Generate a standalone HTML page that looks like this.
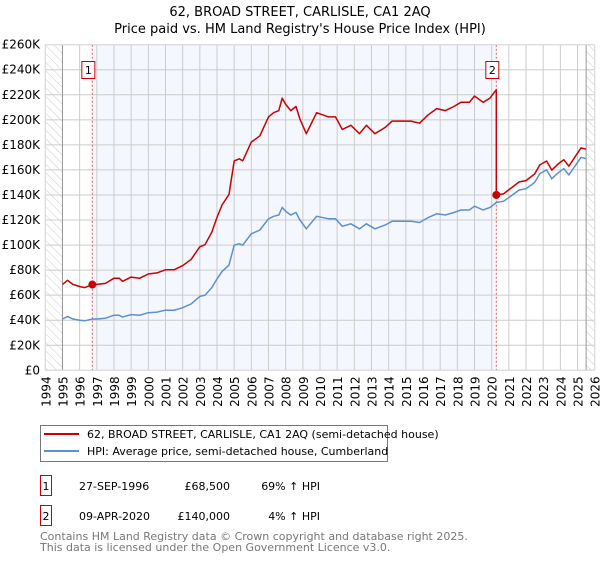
<!DOCTYPE html>
<html><head><meta charset="utf-8"><style>
body{margin:0;background:#fff;width:600px;height:560px;overflow:hidden;font-family:"DejaVu Sans","Liberation Sans",sans-serif}
</style></head><body>
<svg id="chart" width="600" height="560" xmlns="http://www.w3.org/2000/svg" font-family="DejaVu Sans, Liberation Sans, sans-serif">
<defs><pattern id="hatch" width="6" height="6" patternUnits="userSpaceOnUse" patternTransform="rotate(-45)"><line x1="0" y1="0" x2="0" y2="6" stroke="#ccc" stroke-width="1"/></pattern></defs>
<text x="300" y="16" text-anchor="middle" font-size="13" fill="#000">62, BROAD STREET, CARLISLE, CA1 2AQ</text>
<text x="300" y="33" text-anchor="middle" font-size="13" fill="#000">Price paid vs. HM Land Registry's House Price Index (HPI)</text>
<g id="plot"></g>
<g>
<rect x="40.5" y="425.5" width="347" height="36" fill="#fff" stroke="#777"/>
<line x1="44" y1="434" x2="79" y2="434" stroke="#cc0000" stroke-width="2"/>
<text x="87" y="438" font-size="11">62, BROAD STREET, CARLISLE, CA1 2AQ (semi-detached house)</text>
<line x1="44" y1="451" x2="79" y2="451" stroke="#5b8fd4" stroke-width="2"/>
<text x="87" y="455" font-size="11">HPI: Average price, semi-detached house, Cumberland</text>
</g>
<g font-size="11">
<rect x="40.5" y="475.5" width="11" height="20" fill="none" stroke="#cc0000"/><text x="46" y="490" text-anchor="middle">1</text>
<text x="79" y="490">27-SEP-1996</text><text x="230" y="490" text-anchor="end">£68,500</text><text x="320" y="490" text-anchor="end">69% ↑ HPI</text>
<rect x="40.5" y="505.5" width="11" height="20" fill="none" stroke="#cc0000"/><text x="46" y="520" text-anchor="middle">2</text>
<text x="79" y="520">09-APR-2020</text><text x="230" y="520" text-anchor="end">£140,000</text><text x="320" y="520" text-anchor="end">4% ↑ HPI</text>
</g>
<text x="40" y="540" font-size="11" fill="#777">Contains HM Land Registry data © Crown copyright and database right 2025.</text>
<text x="40" y="551" font-size="11" fill="#777">This data is licensed under the Open Government Licence v3.0.</text>
</svg>
<script>
const hpiDates=[1995.0,1995.3,1995.6,1996.0,1996.3,1996.75,1997.0,1997.5,1998.0,1998.3,1998.5,1999.0,1999.5,2000.0,2000.5,2001.0,2001.5,2002.0,2002.5,2003.0,2003.3,2003.7,2004.0,2004.3,2004.7,2005.0,2005.3,2005.5,2006.0,2006.5,2007.0,2007.3,2007.6,2007.8,2008.0,2008.3,2008.6,2008.83,2009.2,2009.8,2010.5,2010.9,2011.3,2011.8,2012.3,2012.7,2013.2,2013.8,2014.2,2014.8,2015.3,2015.8,2016.3,2016.8,2017.3,2017.8,2018.2,2018.7,2019.0,2019.5,2019.9,2020.27,2020.7,2021.2,2021.6,2022.0,2022.5,2022.8,2023.2,2023.5,2023.9,2024.2,2024.5,2024.9,2025.2,2025.5];
const hpiValues=[41,43,41,40,39.5,41,41,41.5,44,44,42.5,44.5,44,46,46.5,48,48,50,53,59,60,66,73,79,84,100,101,100,109,112,121,123,124,130,127,124,126,120,113,123,121,121,115,117,113,117,113,116,119,119,119,118,122,125,124,126,128,128,131,128,130,134,135,140,144,145,150,157,160,153,158,161,156,164,170,169];
const saleDates=[1996.74,2020.27];
const salePrices=[68500,140000];
const saleLabels=["1","2"];
const yTicks=[0,20,40,60,80,100,120,140,160,180,200,220,240,260];
const xYears=[];for(let y=1994;y<=2026;y++)xYears.push(y);

const NS="http://www.w3.org/2000/svg";
const L=45.3,R=594.7,T=44.7,B=370.3;
const x=d=>L+(d-1994)*(R-L)/32;
const y=v=>B-v*(B-T)/260;
const g=document.getElementById('plot');
function mk(tag,attrs,parent){const e=document.createElementNS(NS,tag);for(const k in attrs)e.setAttribute(k,attrs[k]);(parent||g).appendChild(e);return e;}
function hpiAt(d){for(let i=0;i<hpiDates.length-1;i++){if(d<=hpiDates[i+1]){const t=(d-hpiDates[i])/(hpiDates[i+1]-hpiDates[i]);return hpiValues[i]+t*(hpiValues[i+1]-hpiValues[i]);}}return hpiValues[hpiValues.length-1];}

let bg=mk('rect',{x:L,y:T,width:R-L,height:B-T,fill:'#fff'});


let sh=mk('rect',{x:x(saleDates[0]),y:T,width:x(saleDates[1])-x(saleDates[0]),height:B-T,fill:'#f4f7fe'});


let h1=mk('rect',{x:L,y:T,width:x(1995)-L,height:B-T,fill:'url(#hatch)'});


let h2=mk('rect',{x:x(2025.5),y:T,width:R-x(2025.5),height:B-T,fill:'url(#hatch)'});


xYears.forEach(yr=>{
 const gl=mk('line',{x1:x(yr),x2:x(yr),y1:T,y2:B,stroke:'#ccc','stroke-width':1});
 
 
 const t=mk('text',{x:0,y:0,transform:`translate(${x(yr)+5},${B+6}) rotate(-90)`,'text-anchor':'end','font-size':'12'});
 t.textContent=yr;
 
 
});
yTicks.forEach(v=>{
 const gl=mk('line',{x1:L,x2:R,y1:y(v),y2:y(v),stroke:'#ccc','stroke-width':1});
 
 
 const t=mk('text',{x:40,y:y(v)+4,'text-anchor':'end','font-size':'12'});
 t.textContent=v===0?'£0':'£'+v+'K';
 
 
});
let b1=mk('line',{x1:x(1995),x2:x(1995),y1:T,y2:B,stroke:'#999'});


let b2=mk('line',{x1:x(2025.5),x2:x(2025.5),y1:T,y2:B,stroke:'#999'});


saleDates.forEach((d,i)=>{
 const vl=mk('line',{x1:x(d),x2:x(d),y1:T,y2:B,stroke:'#e06060','stroke-dasharray':'2,2'});
 
 
});
let hp=hpiDates.map((d,i)=>`${x(d).toFixed(1)},${y(hpiValues[i]).toFixed(1)}`).join(' ');
let hl=mk('polyline',{points:hp,fill:'none',stroke:'#5b8fd4','stroke-width':1.5});


let pts=[];
const r0=salePrices[0]/1000/hpiAt(saleDates[0]),r1=salePrices[1]/1000/hpiAt(saleDates[1]);
hpiDates.forEach((d,i)=>{if(d<saleDates[1])pts.push([d,hpiValues[i]*r0]);});
pts.push([saleDates[1],hpiAt(saleDates[1])*r0]);
pts.push([saleDates[1],salePrices[1]/1000]);
hpiDates.forEach((d,i)=>{if(d>saleDates[1])pts.push([d,hpiValues[i]*r1]);});
let pl=mk('polyline',{points:pts.map(p=>`${x(p[0]).toFixed(1)},${y(p[1]).toFixed(1)}`).join(' '),fill:'none',stroke:'#cc0000','stroke-width':1.5,'stroke-linejoin':'round'});


saleDates.forEach((d,i)=>{
 const c=mk('circle',{cx:x(d),cy:y(salePrices[i]/1000),r:4,fill:'#cc0000'});
 
 
 const bx=mk('rect',{x:x(d)-10.5,y:61.5,width:13,height:17,fill:'#fff',stroke:'#cc0000'});
 
 
 const t=mk('text',{x:x(d)-4,y:74,'text-anchor':'middle','font-size':'11'});
 t.textContent=saleLabels[i];
 
 
});
let fr=mk('rect',{x:L,y:T,width:R-L,height:B-T,fill:'none',stroke:'#ddd'});


</script>
</body></html>
